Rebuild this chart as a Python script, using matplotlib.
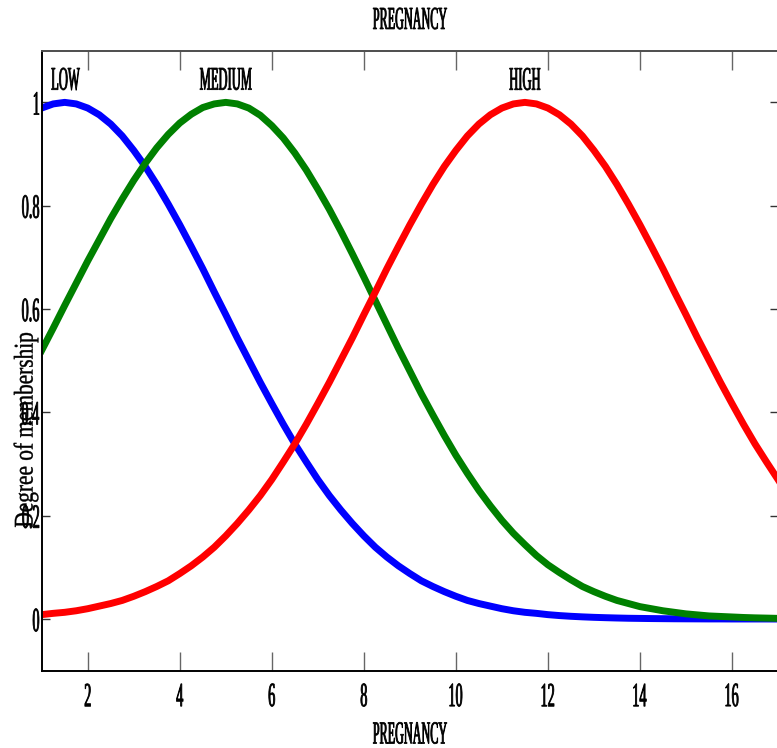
import matplotlib
matplotlib.use("Agg")
import matplotlib.pyplot as plt
from matplotlib.textpath import TextPath
from matplotlib.patches import PathPatch
from matplotlib.font_manager import FontProperties
from matplotlib.transforms import Affine2D, IdentityTransform

# valores (funcoes de pertinencia), passo de 0.25
pregnancy = [1, 1.25, 1.5, 1.75, 2, 2.25, 2.5, 2.75, 3, 3.25, 3.5, 3.75,
             4, 4.25, 4.5, 4.75, 5, 5.25, 5.5, 5.75, 6, 6.25, 6.5, 6.75,
             7, 7.25, 7.5, 7.75, 8, 8.25, 8.5, 8.75, 9, 9.25, 9.5, 9.75,
             10, 10.25, 10.5, 10.75, 11, 11.25, 11.5, 11.75, 12, 12.25, 12.5, 12.75,
             13, 13.25, 13.5, 13.75, 14, 14.25, 14.5, 14.75, 15, 15.25, 15.5, 15.75,
             16, 16.25, 16.5, 16.75, 17]
low = [0.989, 0.997, 1.0, 0.997, 0.989, 0.976, 0.958, 0.935, 0.907, 0.876,
       0.841, 0.803, 0.763, 0.721, 0.678, 0.633, 0.589, 0.544, 0.501, 0.458,
       0.417, 0.377, 0.339, 0.304, 0.270, 0.239, 0.211, 0.185, 0.161, 0.139,
       0.120, 0.103, 0.088, 0.074, 0.063, 0.053, 0.044, 0.036, 0.030, 0.025,
       0.020, 0.016, 0.013, 0.011, 0.0085, 0.0067, 0.0053, 0.0042, 0.0033,
       0.0026, 0.0020, 0.0015, 0.0012, 0.0009, 0.0007, 0.0005, 0.0004, 0.0003,
       0.0002, 0.0002, 0.0001, 0.0001, 0.0001, 0.0001, 0.0]
medium = [0.520, 0.563, 0.607, 0.650, 0.693, 0.734, 0.775, 0.813, 0.849, 0.882,
          0.912, 0.938, 0.960, 0.977, 0.990, 0.997, 1.0, 0.997, 0.989, 0.975,
          0.955, 0.931, 0.902, 0.869, 0.832, 0.793, 0.751, 0.707, 0.662, 0.616,
          0.570, 0.524, 0.480, 0.436, 0.395, 0.355, 0.317, 0.282, 0.249, 0.219,
          0.191, 0.166, 0.144, 0.123, 0.105, 0.090, 0.076, 0.063, 0.053, 0.044,
          0.036, 0.030, 0.024, 0.020, 0.016, 0.013, 0.010, 0.008, 0.006, 0.005,
          0.004, 0.003, 0.0023, 0.0018, 0.0013]
high = [0.0085, 0.011, 0.013, 0.016, 0.020, 0.025, 0.030, 0.036, 0.044, 0.053,
        0.063, 0.074, 0.088, 0.103, 0.120, 0.139, 0.161, 0.185, 0.211, 0.239,
        0.270, 0.304, 0.339, 0.377, 0.417, 0.458, 0.501, 0.544, 0.589, 0.633,
        0.678, 0.721, 0.763, 0.803, 0.841, 0.876, 0.907, 0.935, 0.958, 0.976,
        0.989, 0.997, 1.0, 0.997, 0.989, 0.976, 0.958, 0.935, 0.907, 0.876,
        0.841, 0.803, 0.763, 0.721, 0.678, 0.633, 0.589, 0.544, 0.501, 0.458,
        0.417, 0.377, 0.339, 0.304, 0.270]

mf_names = ["LOW", "MEDIUM", "HIGH"]
mf_centers = [1.52, 5.0, 11.5]
xticks = [2, 4, 6, 8, 10, 12, 14, 16]
yticks = [0, 0.2, 0.4, 0.6, 0.8, 1]
ytick_labels = ["0", "0.2", "0.4", "0.6", "0.8", "1"]

W, H = 777, 748
fp = FontProperties(family="Liberation Serif")


def squeezed(fig, x, y, s, em, sx=0.4, ha="center", rot=0, lw=0.6):
    # texto estreito (tipo Times comprimido), x e y em pixels de baixo
    tp = TextPath((0, 0), s, size=100, prop=fp)
    ext = tp.get_extents()
    if ha == "center":
        ox = (ext.x0 + ext.x1) / 2
    elif ha == "right":
        ox = ext.x1
    else:
        ox = ext.x0
    oy = (ext.y0 + ext.y1) / 2
    k = em / 100.0
    tr = Affine2D().translate(-ox, -oy).scale(k * sx, k).rotate_deg(rot).translate(x, y)
    fig.add_artist(PathPatch(tr.transform_path(tp), fc="black", ec="black", lw=lw,
                             transform=IdentityTransform()))


fig = plt.figure(figsize=(W / 100, H / 100), dpi=100)
ax = fig.add_axes([41.7 / W, 1 - 670.7 / H, 736.3 / W, 620 / H])

ax.plot(pregnancy, low, color="blue", lw=5)
ax.plot(pregnancy, medium, color="green", lw=5)
ax.plot(pregnancy, high, color="red", lw=5)

ax.set_xlim(1, 17)
ax.set_ylim(-0.1, 1.1)
ax.set_xticks(xticks)
ax.set_yticks(yticks)
ax.tick_params(axis="x", direction="in", length=13.7, width=1.0, color="0.4",
               top=True, labelbottom=False)
ax.tick_params(axis="y", direction="in", length=5.8, width=1.0, color="0.2",
               right=True, labelleft=False)
for sp in ax.spines.values():
    sp.set_linewidth(1.4)
ax.spines["top"].set_color("0.3")

# rotulos dos ticks
for xv in xticks:
    px, py = ax.transData.transform((xv, 0))
    squeezed(fig, px, H - 695, str(xv), 34, sx=0.42)
for yv, lab in zip(yticks, ytick_labels):
    px, py = ax.transData.transform((1, yv))
    squeezed(fig, 39, py - 1, lab, 34, sx=0.42, ha="right")

# nomes das funcoes
for name, c in zip(mf_names, mf_centers):
    px, py = ax.transData.transform((c, 0))
    squeezed(fig, px, H - 79, name, 33, sx=0.38)

squeezed(fig, 410, H - 18.5, "PREGNANCY", 32, sx=0.38)
squeezed(fig, 410, H - 733, "PREGNANCY", 32, sx=0.38)
squeezed(fig, 26, H - 430, "Degree of membership", 27, sx=0.79, rot=90, lw=0.3)

fig.savefig("out.png", dpi=100)
